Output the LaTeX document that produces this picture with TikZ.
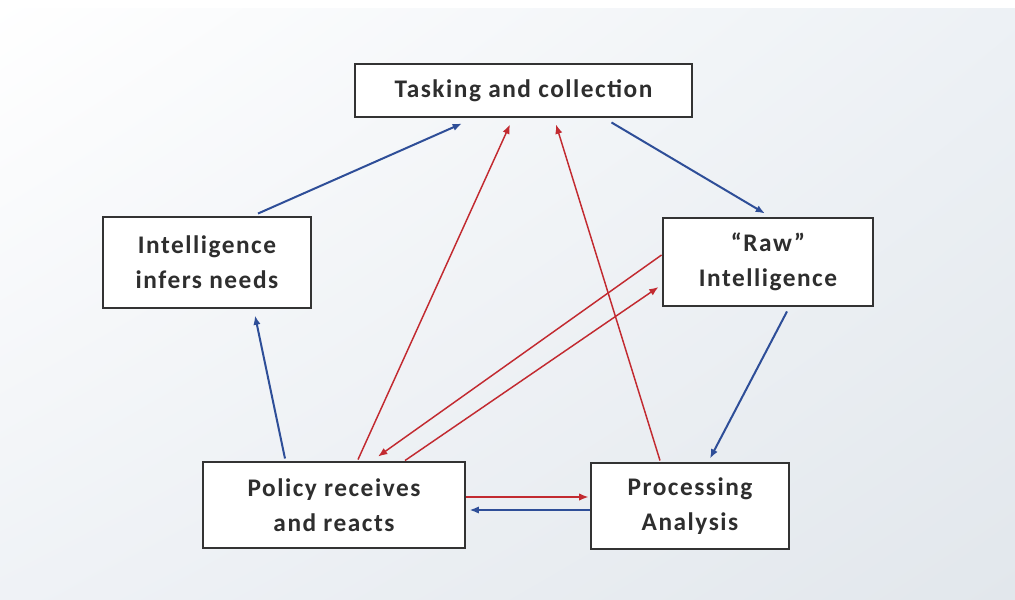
\documentclass[tikz,border=0pt]{standalone}
\usepackage{fontspec}
\setmainfont{Carlito}
\newfontfamily\boxfont[LetterSpace=6]{Carlito}
\usetikzlibrary{arrows.meta,calc,shadings}

\definecolor{linkblue}{HTML}{2E4E98}
\definecolor{linkred}{HTML}{C22A30}
\definecolor{boxline}{HTML}{333333}
\definecolor{bgtr}{HTML}{EDF1F5}
\definecolor{bgbl}{HTML}{EFF2F6}
\definecolor{bgbr}{HTML}{E2E7EC}

\begin{document}
\begin{tikzpicture}[x=0.75pt, y=-0.75pt,
  box/.style={draw=boxline, fill=white, line width=2.2pt, align=center, inner sep=0pt,
    text=black!82, font=\boxfont\fontsize{19}{26}\selectfont\bfseries},
  bluelink/.style={draw=linkblue, line width=1.5pt, -{Latex[length=7pt,width=5.5pt]}},
  redlink/.style={draw=linkred, line width=1.1pt, -{Latex[length=7pt,width=5.5pt]}}]
% background
\shade[upper left=white, upper right=bgtr, lower left=bgbl, lower right=bgbr] (0,0) rectangle (1015,600);
\fill[white] (0,0) rectangle (1015,8);
\useasboundingbox (0,0) rectangle (1015,600);

% boxes
\node[box, minimum width=252.75pt, minimum height=39.75pt] (task) at (523.5,90.5) {Tasking and collection};
\node[box, minimum width=157.5pt, minimum height=66pt] (raw) at (768,262) {“Raw”\\Intelligence};
\node[box, minimum width=156pt, minimum height=68.25pt] (infer) at (207,262.5) {Intelligence\\infers needs};
\node[box, minimum width=196.5pt, minimum height=64.5pt] (policy) at (334,505) {Policy receives\\and reacts};
\node[box, minimum width=148.5pt, minimum height=64.5pt] (proc) at (690,506) {Processing\\Analysis};

% blue cycle
\draw[bluelink] ($(infer.north)+(51,-2)$) -- ($(task.south)+(-61.5,5)$);
\draw[bluelink] ($(task.south)+(88,4)$) -- ($(raw.north)+(-3,-3)$);
\draw[bluelink] ($(raw.south)+(19,4)$) -- ($(proc.north)+(20,-3)$);
\draw[bluelink] ($(proc.west)+(0,4)$) -- ($(policy.east)+(3,5)$);
\draw[bluelink] ($(policy.north)+(-49,-2)$) -- ($(infer.south)+(48,6)$);

% red feedback
\draw[redlink] ($(policy.east)+(0,-8)$) -- ($(proc.west)+(-1,-9)$);
\draw[redlink] ($(policy.north)+(24,-1)$) -- ($(task.south)+(-13.5,6)$);
\draw[redlink] ($(proc.north)+(-30,-1)$) -- ($(task.south)+(32.5,6)$);
\draw[redlink] ($(raw.west)+(0,-7)$) -- ($(policy.north)+(44,-4)$);
\draw[redlink] ($(policy.north)+(71,0)$) -- ($(raw.west)+(-3,25)$);
\end{tikzpicture}
\end{document}
